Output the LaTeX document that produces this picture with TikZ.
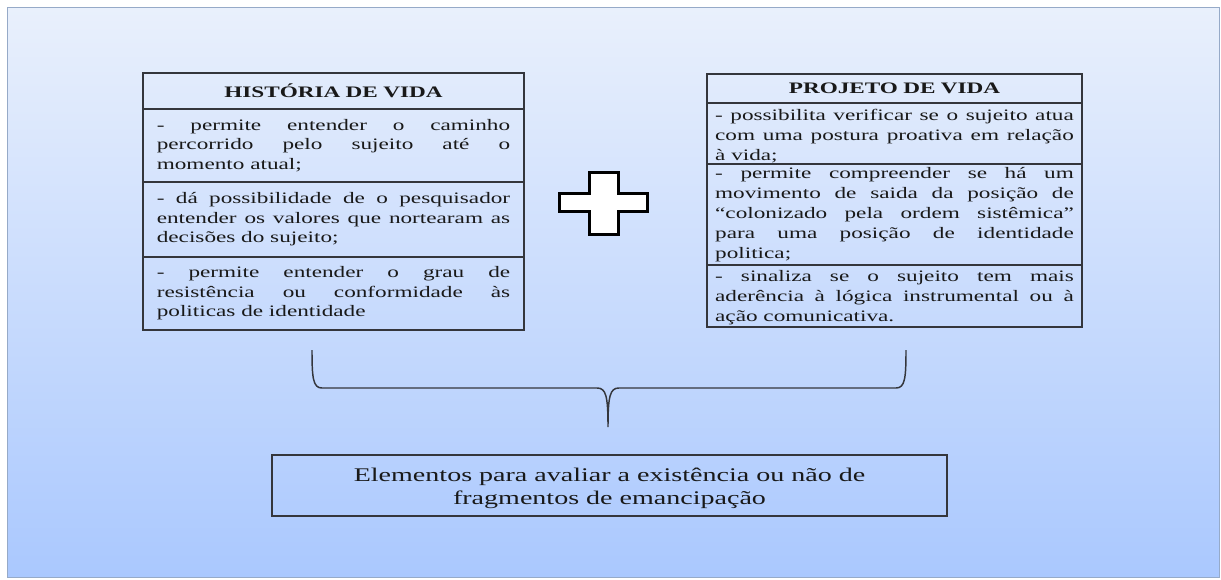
\documentclass[tikz,border=0pt]{standalone}
\usepackage{fontspec}
\setmainfont{Liberation Serif}[FakeStretch=1.45]
\usetikzlibrary{positioning}
\begin{document}
\begin{tikzpicture}[x=0.75pt,y=0.75pt,yscale=-1,
  lineclr/.style={draw={rgb,255:red,52;green,54;blue,60}, line width=1.3pt, outer sep=0pt},
  headcell/.style 2 args={lineclr, text width=#1, inner xsep=#2, inner ysep=1pt, align=center,
    font=\fontsize{12}{14.5}\selectfont\bfseries, text={rgb,255:red,25;green,25;blue,25}},
  bodycell/.style 2 args={lineclr, text width=#1, inner xsep=#2, inner ysep=1pt, align=justify,
    font=\fontsize{12}{14.6}\selectfont, text={rgb,255:red,25;green,25;blue,25}},
  pvcell/.style={bodycell={269pt}{6.125pt}, font=\fontsize{12}{15}\selectfont}
]
\useasboundingbox (0,0) rectangle (1221,579);

%Shape: Rectangle [background]
\fill [white] (0,0) rectangle (1221,579);
\shade [top color={rgb,255:red,233;green,240;blue,252}, bottom color={rgb,255:red,170;green,200;blue,254}] (7,7) rectangle (1219,577);
\draw [color={rgb,255:red,150;green,170;blue,200}, line width=0.6pt] (7,7) rectangle (1219,577);

% Table: historia de vida
\node [headcell={265pt}{10.375pt}, minimum height=27pt, anchor=north west] (hvTitle) at (143,73) {HISTÓRIA DE VIDA};
\node [bodycell={265pt}{10.375pt}, minimum height=54.75pt, below=0pt of hvTitle] (hvRowA)
  {- permite entender o caminho\linebreak percorrido pelo sujeito até o\linebreak momento atual;};
\node [bodycell={265pt}{10.375pt}, minimum height=56.25pt, below=0pt of hvRowA] (hvRowB)
  {- dá possibilidade de o pesquisador\linebreak entender os valores que nortearam as\linebreak decisões do sujeito;};
\node [bodycell={265pt}{10.375pt}, minimum height=54.75pt, below=0pt of hvRowB] (hvRowC)
  {- permite entender o grau de\linebreak resistência ou conformidade às\linebreak politicas de identidade};

% Table: projeto de vida
\node [headcell={269pt}{6.125pt}, minimum height=21.75pt, anchor=north west] (pvTitle) at (707,74) {PROJETO DE VIDA};
\node [pvcell, minimum height=45.75pt, below=0pt of pvTitle] (pvRowA)
  {\rule{0pt}{12pt}- possibilita verificar se o sujeito atua\linebreak com uma postura proativa em relação\linebreak à vida;};
\node [pvcell, minimum height=75.75pt, below=0pt of pvRowA] (pvRowB)
  {- permite compreender se há um\linebreak movimento de saida da posição de\linebreak “colonizado pela ordem sistêmica”\linebreak para uma posição de identidade\linebreak politica;};
\node [pvcell, minimum height=46.5pt, below=0pt of pvRowB] (pvRowC)
  {\rule{0pt}{11pt}- sinaliza se o sujeito tem mais\linebreak aderência à lógica instrumental ou à\linebreak ação comunicativa.};

%Shape: Cross [plus]
\draw [line width=2.3pt, fill=white, line join=miter] (589.5,172.5) -- (618.5,172.5) -- (618.5,193.5) -- (647.5,193.5) -- (647.5,211.5) -- (618.5,211.5) -- (618.5,234.5) -- (589.5,234.5) -- (589.5,211.5) -- (559.5,211.5) -- (559.5,193.5) -- (589.5,193.5) -- cycle ;

%Curve Lines [brace]
\coordinate (braceL) at (312,350);
\coordinate (braceR) at (906,350);
\coordinate (braceTip) at (608,427);
\draw [lineclr, line width=1.1pt] (braceL) .. controls (312,378) and (313,388) .. (322,388) -- (597,388) .. controls (606,388) and (608,396) .. (braceTip) .. controls (608,396) and (610,388) .. (619,388) -- (896,388) .. controls (905,388) and (906,378) .. (braceR) ;

% Text Node
\node [lineclr, minimum width=506.25pt, minimum height=45.75pt, inner sep=0pt, align=center,
  font=\fontsize{14.5}{17.25}\selectfont, text={rgb,255:red,25;green,25;blue,25}] (concl) at (609.5,485.5)
  {\rule{0pt}{14pt}Elementos para avaliar a existência ou não de\\ fragmentos de emancipação};

\end{tikzpicture}
\end{document}
